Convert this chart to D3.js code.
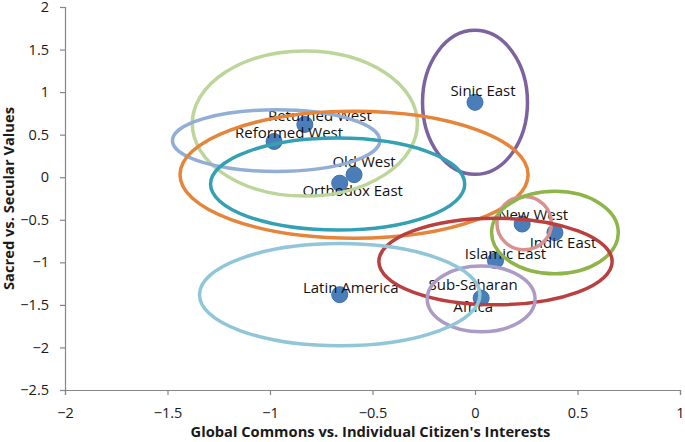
<!DOCTYPE html>
<html>
<head>
<meta charset="utf-8">
<script src="https://cdn.jsdelivr.net/npm/d3@7"></script>
<style>
  body { margin: 0; background: #fff; }
  text { font-family: "Open Sans", "Noto Sans", sans-serif; }
</style>
</head>
<body>
<div id="chart"></div>
<script>
// regions and their position on the two value dimensions
var regions = ["Sinic East", "Returned West", "Reformed West", "Old West", "Orthodox East",
	"New West", "Indic East", "Islamic East", "Sub-Saharan Africa", "Latin America"];
var xValues = [0.00, -0.83, -0.98, -0.59, -0.66, 0.23, 0.39, 0.10, 0.03, -0.66];
var yValues = [0.88, 0.62, 0.42, 0.03, -0.07, -0.55, -0.65, -0.98, -1.42, -1.38];

// spread of each region (ellipse centre and half-widths, in axis units)
var ellipseCx = [0.00, -0.83, -0.97, -0.59, -0.67, 0.24, 0.39, 0.10, 0.03, -0.66];
var ellipseCy = [0.88, 0.63, 0.43, 0.03, -0.08, -0.54, -0.65, -0.99, -1.43, -1.38];
var ellipseRx = [0.256, 0.549, 0.506, 0.849, 0.620, 0.133, 0.309, 0.569, 0.263, 0.684];
var ellipseRy = [0.846, 0.852, 0.362, 0.746, 0.540, 0.313, 0.484, 0.509, 0.386, 0.600];

var xTicks = [-2, -1.5, -1, -0.5, 0, 0.5, 1];
var yTicks = [2, 1.5, 1, 0.5, 0, -0.5, -1, -1.5, -2, -2.5];

var ellipseColors = ["#7d62a0", "#bcd69a", "#93aed6", "#e6843a", "#33a0b4",
	"#d9908f", "#8fb54a", "#b9403e", "#ab9bc6", "#90c6d8"];
// label offsets from the marker, px
var labelDx = [8, 15, 15, 10, 13, 11, 8, 10, -8, 11];
var labelDy = [-6, -3, -3, -8, 13, -4, 15, -2, -8, -2];

var width = 685, height = 442,
	margin = {top: 7, right: 5, bottom: 52, left: 65},
	innerWidth = width - margin.left - margin.right,
	innerHeight = height - margin.top - margin.bottom;

var xScale = d3.scaleLinear().domain([-2, 1]).range([0, innerWidth]);
var yScale = d3.scaleLinear().domain([-2.5, 2]).range([innerHeight, 0]);

var svg = d3.select("#chart").append("svg")
	.attr("width", width)
	.attr("height", height);

var g = svg.append("g")
	.attr("transform", "translate(" + margin.left + "," + margin.top + ")");

// axes
var xAxis = g.append("g")
	.attr("transform", "translate(0," + innerHeight + ")")
	.call(d3.axisBottom(xScale).tickValues(xTicks).tickSize(5).tickPadding(13).tickFormat(d3.format("")));
var yAxis = g.append("g")
	.call(d3.axisLeft(yScale).tickValues(yTicks).tickSize(5).tickPadding(11).tickFormat(d3.format("")));

[xAxis, yAxis].forEach(function(a) {
	a.select(".domain").attr("stroke", "#868686").attr("stroke-width", 1.2);
	a.selectAll(".tick line").attr("stroke", "#868686").attr("stroke-width", 1.2);
	a.selectAll(".tick text")
		.attr("fill", "#1a1a1a")
		.style("font-size", "14.5px")
		.style("font-family", "'Open Sans', sans-serif");
});

// axis titles
svg.append("text")
	.attr("x", margin.left + innerWidth / 2 - 2)
	.attr("y", 437)
	.attr("text-anchor", "middle")
	.attr("font-weight", "bold")
	.style("font-size", "14.7px")
	.attr("fill", "#1a1a1a")
	.text("Global Commons vs. Individual Citizen's Interests");

svg.append("text")
	.attr("transform", "translate(14," + (margin.top + innerHeight / 2) + ") rotate(-90)")
	.attr("text-anchor", "middle")
	.attr("font-weight", "bold")
	.style("font-size", "14.7px")
	.attr("fill", "#1a1a1a")
	.text("Sacred vs. Secular Values");

// markers
g.selectAll(".dot")
	.data(regions)
	.enter().append("circle")
	.attr("class", "dot")
	.attr("cx", function(d, i) { return xScale(xValues[i]); })
	.attr("cy", function(d, i) { return yScale(yValues[i]); })
	.attr("r", 8)
	.attr("fill", "#4a7ebb")
	.attr("stroke", "#3f6fa8")
	.attr("stroke-width", 1);

// data labels
var labels = g.selectAll(".label")
	.data(regions)
	.enter().append("text")
	.attr("class", "label")
	.attr("text-anchor", "middle")
	.attr("fill", "#111")
	.style("font-size", "15px")
	.attr("x", function(d, i) { return xScale(xValues[i]) + labelDx[i]; })
	.attr("y", function(d, i) { return yScale(yValues[i]) + labelDy[i]; });

labels.each(function(d, i) {
	var t = d3.select(this);
	if (d === "Sub-Saharan Africa") {
		t.append("tspan").text("Sub-Saharan");
		t.append("tspan").attr("x", t.attr("x")).attr("dy", "1.45em").text("Africa");
	} else {
		t.text(d);
	}
});

// region ellipses sit on top, like drawn shapes
g.selectAll(".region")
	.data(regions)
	.enter().append("ellipse")
	.attr("class", "region")
	.attr("cx", function(d, i) { return xScale(ellipseCx[i]); })
	.attr("cy", function(d, i) { return yScale(ellipseCy[i]); })
	.attr("rx", function(d, i) { return xScale(ellipseCx[i] + ellipseRx[i]) - xScale(ellipseCx[i]); })
	.attr("ry", function(d, i) { return yScale(ellipseCy[i] - ellipseRy[i]) - yScale(ellipseCy[i]); })
	.attr("fill", "none")
	.attr("stroke", function(d, i) { return ellipseColors[i]; })
	.attr("stroke-width", 3.5);
</script>
</body>
</html>
